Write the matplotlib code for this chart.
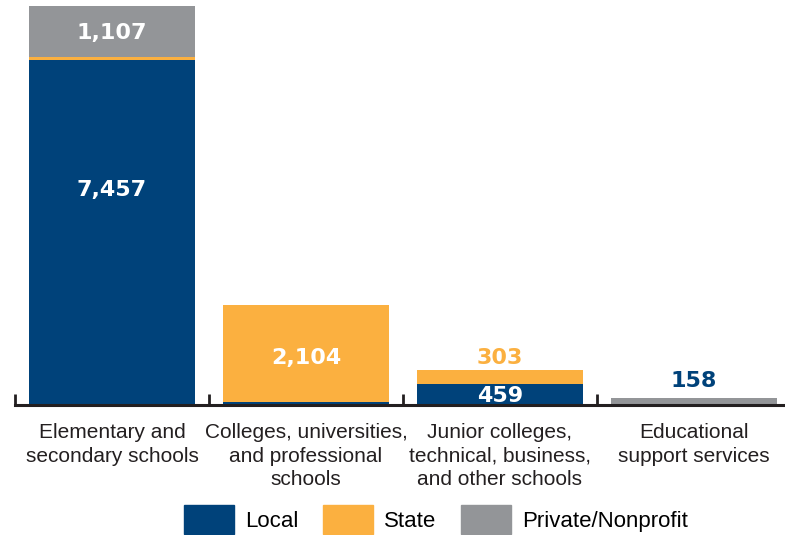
import matplotlib.pyplot as plt
from matplotlib.patches import Patch

categories = ["Elementary and\nsecondary schools",
              "Colleges, universities,\nand professional\nschools",
              "Junior colleges,\ntechnical, business,\nand other schools",
              "Educational\nsupport services"]
local = [7457, 60, 459, 18]
state = [60, 2104, 303, 0]
private = [1107, 0, 0, 140]

BLUE = "#00427A"
ORANGE = "#FBB040"
GRAY = "#939598"
LABEL_FONT = ["Liberation Sans", "DejaVu Sans"]

fig = plt.figure(figsize=(7.85, 5.35), dpi=100)
ax = fig.add_axes([15 / 785, 130 / 535, 770 / 785, 400 / 535])

x = range(len(categories))
w = 0.855
ax.bar(x, local, width=w, color=BLUE)
ax.bar(x, state, width=w, bottom=local, color=ORANGE)
bottoms = [a + b for a, b in zip(local, state)]
ax.bar(x, private, width=w, bottom=bottoms, color=GRAY)

ax.set_xlim(-0.5, 3.47)
ax.set_ylim(0, 8640)

for s in ["top", "right", "left"]:
    ax.spines[s].set_visible(False)
ax.spines["bottom"].set_color("#231F20")
ax.spines["bottom"].set_linewidth(2.2)
ax.set_yticks([])
ax.set_xticks([-0.5, 0.5, 1.5, 2.5])
ax.tick_params(axis="x", direction="in", length=8, width=2, color="#231F20", labelbottom=False)

for i, lab in enumerate(categories):
    ax.text(i, -380, lab, ha="center", va="top", fontsize=15, color="#231F20",
            family=LABEL_FONT, linespacing=1.33)

vk = dict(ha="center", va="center", fontsize=16, fontweight="bold")
ax.text(0, 8035, "1,107", color="white", **vk)
ax.text(0, 4640, "7,457", color="white", **vk)
ax.text(1, 1015, "2,104", color="white", **vk)
ax.text(2, 200, "459", color="white", **vk)
ax.text(2, 1015, "303", color=ORANGE, **vk)
ax.text(3, 515, "158", color=BLUE, **vk)

handles = [Patch(color=BLUE, label="Local"), Patch(color=ORANGE, label="State"),
           Patch(color=GRAY, label="Private/Nonprofit")]
fig.legend(handles=handles, loc="lower center", bbox_to_anchor=(0.555, -0.035), ncol=3,
           frameon=False, handlelength=2.25, handleheight=1.6, handletextpad=0.5,
           columnspacing=1.1, prop={"family": LABEL_FONT, "size": 16})

fig.savefig("out.png", dpi=100)
